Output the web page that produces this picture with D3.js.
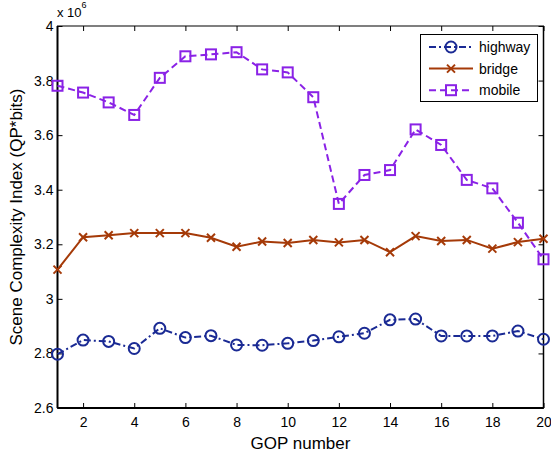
<!DOCTYPE html>
<html>
<head>
<meta charset="utf-8">
<script src="https://cdn.jsdelivr.net/npm/d3@7"></script>
<style>
  html, body { margin: 0; padding: 0; background: #fff; }
  svg { display: block; font-family: "Liberation Sans", Arial, sans-serif; }
</style>
</head>
<body>
<svg id="chart" width="551" height="457"></svg>
<script>
// GOP index 1..20
const gops = d3.range(1, 21);

// Scene complexity per GOP, in units of 10^6 (QP*bits)
const highway = [2.797, 2.849, 2.844, 2.818, 2.892, 2.858, 2.865, 2.831, 2.830, 2.837,
                 2.847, 2.861, 2.874, 2.923, 2.926, 2.864, 2.864, 2.864, 2.882, 2.852];
const bridge  = [3.107, 3.226, 3.233, 3.241, 3.241, 3.241, 3.224, 3.191, 3.210, 3.205,
                 3.216, 3.207, 3.216, 3.171, 3.230, 3.212, 3.216, 3.184, 3.208, 3.220];
const mobile  = [3.781, 3.756, 3.720, 3.674, 3.810, 3.889, 3.896, 3.904, 3.841, 3.830,
                 3.739, 3.348, 3.454, 3.472, 3.621, 3.564, 3.436, 3.405, 3.279, 3.145];

const xTicks = [2, 4, 6, 8, 10, 12, 14, 16, 18, 20];
const yTicks = [2.6, 2.8, 3, 3.2, 3.4, 3.6, 3.8, 4];

const seriesNames = ["highway", "bridge", "mobile"];

const svg = d3.select("#chart");
const plotLeft = 57.5, plotRight = 543.5, plotTop = 26, plotBottom = 408;

const x = d3.scaleLinear().domain([1, 20]).range([plotLeft, plotRight]);
const y = d3.scaleLinear().domain([2.6, 4]).range([plotBottom, plotTop]);

const styles = {
  highway: { color: "#1a2a94", dash: "7,3,2,3", marker: "circle" },
  bridge:  { color: "#a53a08", dash: null,      marker: "cross"  },
  mobile:  { color: "#8a22e6", dash: "7,4",     marker: "square" }
};

// Axes box with inward ticks on all four sides
const tickLen = 5;
const tickFont = 14;

const xAxisB = d3.axisBottom(x).tickValues(xTicks).tickSizeInner(-tickLen).tickSizeOuter(0).tickPadding(9).tickFormat(d3.format("d"));
const xAxisT = d3.axisTop(x).tickValues(xTicks).tickSizeInner(-tickLen).tickSizeOuter(0).tickFormat("");
const yAxisL = d3.axisLeft(y).tickValues(yTicks).tickSizeInner(-tickLen).tickSizeOuter(0).tickPadding(4).tickFormat(d => String(+d.toFixed(1)));
const yAxisR = d3.axisRight(y).tickValues(yTicks).tickSizeInner(-tickLen).tickSizeOuter(0).tickFormat("");

function styleAxis(g) {
  g.select(".domain").remove();
  g.selectAll(".tick line").attr("stroke", "#000").attr("stroke-width", 1);
  g.selectAll(".tick text").attr("font-size", tickFont).attr("fill", "#000")
    .attr("font-family", "Liberation Sans, Arial, sans-serif");
}

svg.append("g").attr("transform", `translate(0,${plotBottom})`).call(xAxisB).call(styleAxis);
svg.append("g").attr("transform", `translate(0,${plotTop})`).call(xAxisT).call(styleAxis);
svg.append("g").attr("transform", `translate(${plotLeft},0)`).call(yAxisL).call(styleAxis);
svg.append("g").attr("transform", `translate(${plotRight},0)`).call(yAxisR).call(styleAxis);

svg.append("rect")
  .attr("x", plotLeft).attr("y", plotTop)
  .attr("width", plotRight - plotLeft).attr("height", plotBottom - plotTop)
  .attr("fill", "none").attr("stroke", "#000").attr("stroke-width", 1);
// heavier bottom, left and right spines
svg.append("line").attr("x1", plotLeft).attr("x2", plotRight).attr("y1", plotBottom).attr("y2", plotBottom)
  .attr("stroke", "#000").attr("stroke-width", 2);
svg.append("line").attr("x1", plotLeft).attr("x2", plotLeft).attr("y1", plotTop).attr("y2", plotBottom)
  .attr("stroke", "#000").attr("stroke-width", 2);
svg.append("line").attr("x1", plotRight).attr("x2", plotRight).attr("y1", plotTop).attr("y2", plotBottom)
  .attr("stroke", "#000").attr("stroke-width", 1.5);

// Exponent label
const expo = svg.append("text").attr("x", 57).attr("y", 17).attr("font-size", 13).attr("fill", "#000");
expo.append("tspan").text("x 10");
expo.append("tspan").attr("dy", -9).attr("font-size", 9).text("6");

// Axis titles
svg.append("text")
  .attr("x", (plotLeft + plotRight) / 2).attr("y", 449)
  .attr("text-anchor", "middle").attr("font-size", 17).attr("fill", "#000")
  .text("GOP number");

svg.append("text")
  .attr("transform", `translate(22,${(plotTop + plotBottom) / 2}) rotate(-90)`)
  .attr("text-anchor", "middle").attr("font-size", 17).attr("fill", "#000")
  .text("Scene Complexity Index (QP*bits)");

// Marker drawing
function drawMarker(g, type, cx, cy, color) {
  if (type === "circle") {
    g.append("circle").attr("cx", cx).attr("cy", cy).attr("r", 5.5)
      .attr("fill", "none").attr("stroke", color).attr("stroke-width", 2);
  } else if (type === "square") {
    g.append("rect").attr("x", cx - 5).attr("y", cy - 5).attr("width", 10).attr("height", 10)
      .attr("fill", "none").attr("stroke", color).attr("stroke-width", 2);
  } else {
    const s = 4;
    g.append("path").attr("d", `M${cx - s},${cy - s}L${cx + s},${cy + s}M${cx - s},${cy + s}L${cx + s},${cy - s}`)
      .attr("stroke", color).attr("stroke-width", 2).attr("fill", "none");
  }
}

const plotG = svg.append("g");
const dataBySeries = { highway, bridge, mobile };
const line = d3.line().x((d, i) => x(gops[i])).y(d => y(d));

seriesNames.forEach(name => {
  const st = styles[name];
  const vals = dataBySeries[name];
  plotG.append("path")
    .datum(vals)
    .attr("d", line)
    .attr("fill", "none")
    .attr("stroke", st.color)
    .attr("stroke-width", 2)
    .attr("stroke-dasharray", st.dash);
  const mg = plotG.append("g");
  vals.forEach((v, i) => drawMarker(mg, st.marker, x(gops[i]), y(v), st.color));
});

// Legend
const lg = svg.append("g");
lg.append("rect").attr("x", 420.5).attr("y", 34.5).attr("width", 117).attr("height", 67)
  .attr("fill", "#fff").attr("stroke", "#000").attr("stroke-width", 1);
seriesNames.forEach((name, i) => {
  const st = styles[name];
  const ly = 47 + i * 21.6;
  lg.append("line").attr("x1", 429).attr("x2", 473).attr("y1", ly).attr("y2", ly)
    .attr("stroke", st.color).attr("stroke-width", 2).attr("stroke-dasharray", st.dash);
  drawMarker(lg, st.marker, 451, ly, st.color);
  lg.append("text").attr("x", 479).attr("y", ly + 5).attr("font-size", 14).attr("fill", "#000").text(name);
});
</script>
</body>
</html>
